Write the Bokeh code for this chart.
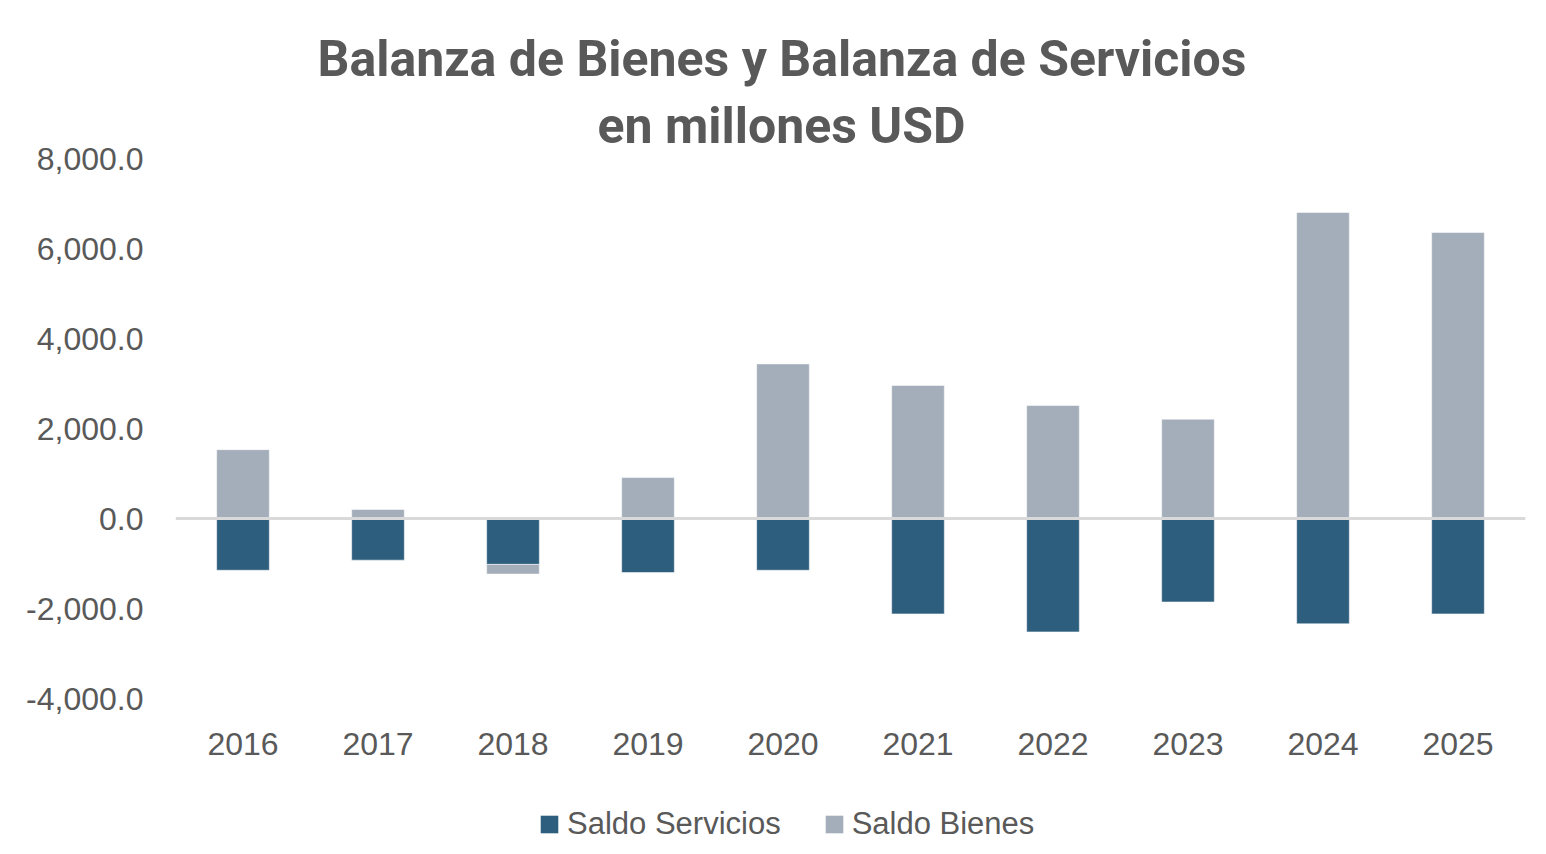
from bokeh.plotting import figure
from bokeh.layouts import column
from bokeh.models import (ColumnDataSource, FactorRange, Range1d, FixedTicker,
                          NumeralTickFormatter, Span, Title, Legend, LegendItem)
from bokeh.embed import file_html
from bokeh.resources import INLINE

years = ["2016", "2017", "2018", "2019", "2020", "2021", "2022", "2023", "2024", "2025"]
saldo_servicios = [-1150, -925, -1020, -1200, -1150, -2120, -2520, -1855, -2340, -2120]
saldo_bienes = [1530, 200, -215, 910, 3435, 2955, 2510, 2205, 6800, 6355]
y_ticks = [-4000, -2000, 0, 2000, 4000, 6000, 8000]
series_names = ["Saldo Servicios", "Saldo Bienes"]

title_line1 = "Balanza de Bienes y Balanza de Servicios"
title_line2 = "en millones USD"

BLUE = "#2E5E7D"
GREY = "#A4AEBA"
TXT = "#595959"
FONT = "Liberation Sans"

# stacking like Excel: positives stack upward from 0, negatives downward
serv_bottom, serv_top, bien_bottom, bien_top = [], [], [], []
for s, b in zip(saldo_servicios, saldo_bienes):
    pos, neg = 0.0, 0.0
    if s >= 0:
        serv_bottom.append(pos); serv_top.append(pos + s); pos += s
    else:
        serv_bottom.append(neg); serv_top.append(neg + s); neg += s
    if b >= 0:
        bien_bottom.append(pos); bien_top.append(pos + b)
    else:
        bien_bottom.append(neg); bien_top.append(neg + b)

src = ColumnDataSource(dict(x=years, sb=serv_bottom, st=serv_top, bb=bien_bottom, bt=bien_top))

W = 1538
H1 = 780
H2 = 70
p = figure(width=W, height=H1, output_backend="svg", toolbar_location=None,
           x_range=FactorRange(*years, range_padding=0), y_range=Range1d(-4000, 8000),
           min_border_left=175, min_border_right=W - 1525, min_border_top=158,
           min_border_bottom=H1 - 698)
p.outline_line_color = None
p.grid.visible = False

p.vbar(x="x", bottom="sb", top="st", width=0.39, source=src,
       fill_color=BLUE, line_color="white", line_alpha=0.5, line_width=1)
p.vbar(x="x", bottom="bb", top="bt", width=0.39, source=src,
       fill_color=GREY, line_color="white", line_alpha=0.5, line_width=1)

p.add_layout(Span(location=0, dimension="width", line_color="#D9D9D9", line_width=3))

p.yaxis.ticker = FixedTicker(ticks=y_ticks)
p.yaxis.formatter = NumeralTickFormatter(format="0,0.0")
for ax in (p.xaxis[0], p.yaxis[0]):
    ax.axis_line_color = None
    ax.major_tick_line_color = None
    ax.minor_tick_line_color = None
    ax.major_tick_out = 0
    ax.major_tick_in = 0
    ax.major_label_text_color = TXT
    ax.major_label_text_font = FONT
    ax.major_label_text_font_size = "32px"
p.yaxis.major_label_standoff = 32
p.xaxis.major_label_standoff = 34

p.add_layout(Title(text=title_line2, align="left", offset=422, standoff=8,
                   text_font="Roboto", text_font_style="bold",
                   text_font_size="50px", text_color=TXT), "above")
p.add_layout(Title(text=title_line1, align="left", offset=142, standoff=6,
                   text_font="Roboto", text_font_style="bold",
                   text_font_size="50px", text_color=TXT), "above")

# legend strip below the chart (its frame is aligned with the chart's frame)
lg = figure(width=W, height=H2, output_backend="svg", toolbar_location=None,
            x_range=Range1d(0, 10), y_range=Range1d(0, 10),
            min_border_left=175, min_border_right=W - 1525,
            min_border_top=0, min_border_bottom=0)
lg.axis.visible = False
lg.grid.visible = False
lg.outline_line_color = None
# zero-height swatch renderers outside the visible range; they only feed the legend
r1 = lg.vbar(x=[-50], bottom=[0], top=[0], width=0.1, fill_color=BLUE, line_color=None)
r2 = lg.vbar(x=[-50], bottom=[0], top=[0], width=0.1, fill_color=GREY, line_color=None)
legend = Legend(items=[LegendItem(label=series_names[0], renderers=[r1]),
                       LegendItem(label=series_names[1], renderers=[r2])],
                orientation="horizontal", location=(363, 8),
                label_text_font=FONT, label_text_font_size="31px", label_text_color=TXT,
                glyph_width=22, glyph_height=22, label_standoff=7, spacing=42,
                padding=0, margin=0, border_line_color=None, background_fill_alpha=0)
lg.add_layout(legend, "center")

layout = column(p, lg, spacing=0)
open("out.html", "w").write(file_html(layout, INLINE))
